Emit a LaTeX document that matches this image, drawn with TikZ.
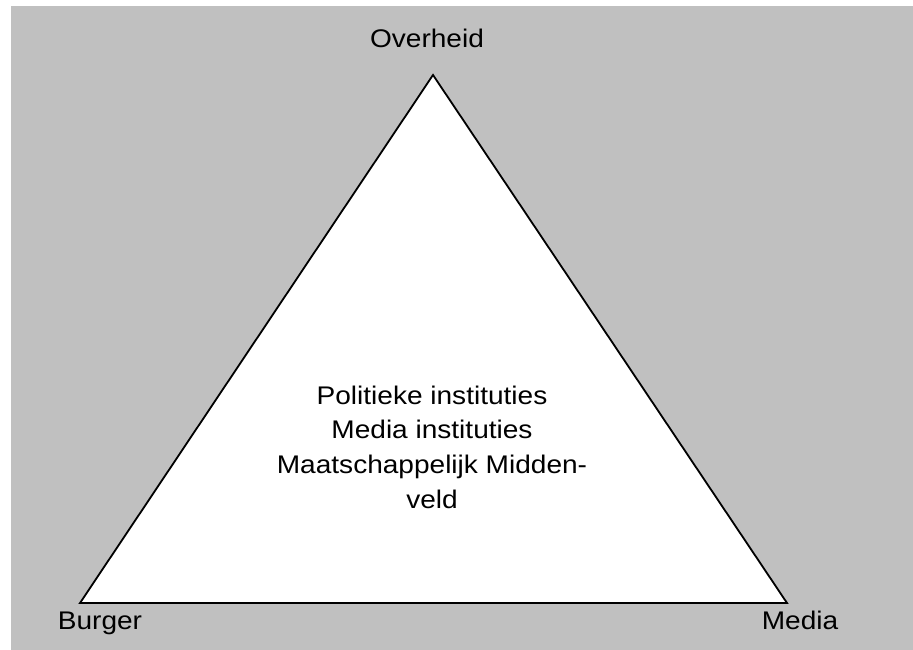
\documentclass[tikz,border=0pt]{standalone}
\usepackage{fontspec}
\setmainfont{Liberation Sans}[FakeStretch=1.1]
\definecolor{bggray}{HTML}{C0C0C0}
\begin{document}
\begin{tikzpicture}[x=1pt,y=1pt,
  lbl/.style={font=\fontsize{25.5}{34.7}\selectfont, inner sep=0pt},
  tri/.style={draw=black, fill=white, line width=1.8pt, line join=miter}]
\useasboundingbox (0,0) rectangle (913,650);
\fill[bggray] (11,0) rectangle (913,644);
\coordinate (top) at (433,575);
\coordinate (bl) at (80,47);
\coordinate (br) at (787,47);
\draw[tri] (top) -- (br) -- (bl) -- cycle;
\node[lbl, anchor=base] (overheid) at (427,602) {Overheid};
\node[lbl, anchor=base] (burger) at (100,20) {Burger};
\node[lbl, anchor=base] (media) at (800,20) {Media};
\node[lbl, align=center] (mid) at (432,203) {Politieke instituties\\Media instituties\\Maatschappelijk Midden-\\veld};
\end{tikzpicture}
\end{document}
